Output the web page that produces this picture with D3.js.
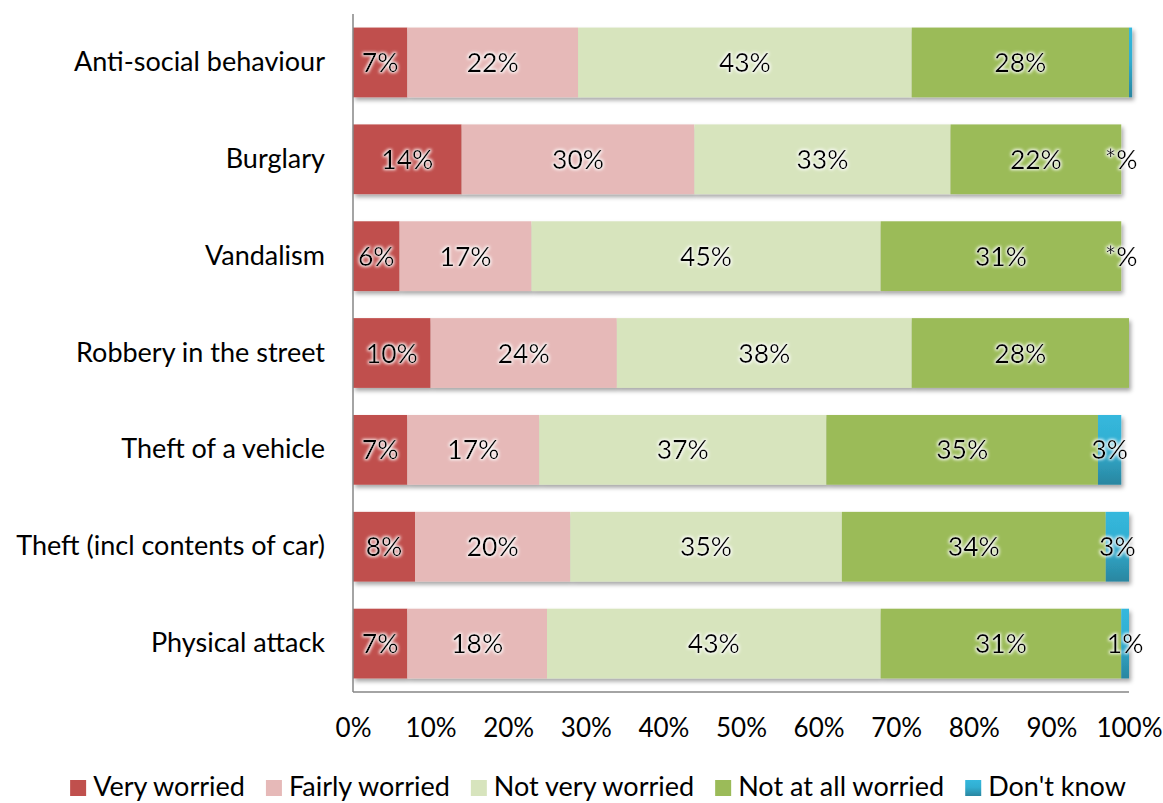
<!DOCTYPE html>
<html>
<head>
<meta charset="utf-8">
<script src="https://cdn.jsdelivr.net/npm/d3@7"></script>
<style>
  html, body { margin: 0; padding: 0; background: #fff; }
  svg { display: block; font-family: Lato, "Open Sans", sans-serif; }
</style>
</head>
<body>
<svg id="chart" width="1163" height="803"></svg>
<script>
// Worry about crime types, share of respondents
const categories = [
  "Anti-social behaviour",
  "Burglary",
  "Vandalism",
  "Robbery in the street",
  "Theft of a vehicle",
  "Theft (incl contents of car)",
  "Physical attack"
];
const veryWorried   = [7, 14, 6, 10, 7, 8, 7];
const fairlyWorried = [22, 30, 17, 24, 17, 20, 18];
const notVeryWorried = [43, 33, 45, 38, 37, 35, 43];
const notAtAllWorried = [28, 22, 31, 28, 35, 34, 31];
const dontKnow = [0.4, 0, 0, 0, 3, 3, 1];
const dontKnowLabels = [null, "*%", "*%", null, "3%", "3%", "1%"];
const seriesNames = ["Very worried", "Fairly worried", "Not very worried", "Not at all worried", "Don't know"];
const tickValues = [0, 10, 20, 30, 40, 50, 60, 70, 80, 90, 100];

const seriesValues = [veryWorried, fairlyWorried, notVeryWorried, notAtAllWorried, dontKnow];
const colors = ["#C0504D", "#E6B9B8", "#D7E4BD", "#9BBB59", "url(#dkGrad)"];

const svg = d3.select("#chart");
const margin = { top: 14, left: 353, right: 34, bottom: 111 };
const width = 1163 - margin.left - margin.right;
const height = 803 - margin.top - margin.bottom;

const defs = svg.append("defs");
const grad = defs.append("linearGradient").attr("id", "dkGrad")
  .attr("x1", 0).attr("y1", 0).attr("x2", 0).attr("y2", 1);
grad.append("stop").attr("offset", "0%").attr("stop-color", "#35B8DD");
grad.append("stop").attr("offset", "45%").attr("stop-color", "#31AED1");
grad.append("stop").attr("offset", "100%").attr("stop-color", "#2A86A0");

const shadow = defs.append("filter").attr("id", "barShadow")
  .attr("x", "-5%").attr("y", "-10%").attr("width", "115%").attr("height", "140%");
shadow.append("feDropShadow").attr("dx", 2).attr("dy", 3)
  .attr("stdDeviation", 2.2).attr("flood-color", "#000").attr("flood-opacity", 0.35);

const glow = defs.append("filter").attr("id", "glow")
  .attr("x", "-30%").attr("y", "-30%").attr("width", "160%").attr("height", "160%");
glow.append("feMorphology").attr("in", "SourceAlpha").attr("operator", "dilate").attr("radius", 1.4).attr("result", "dil");
glow.append("feGaussianBlur").attr("in", "dil").attr("stdDeviation", 1.8).attr("result", "blur");
glow.append("feFlood").attr("flood-color", "#ffffff").attr("flood-opacity", 0.9).attr("result", "white");
glow.append("feComposite").attr("in", "white").attr("in2", "blur").attr("operator", "in").attr("result", "halo");
const merge = glow.append("feMerge");
merge.append("feMergeNode").attr("in", "halo");
merge.append("feMergeNode").attr("in", "SourceGraphic");

const g = svg.append("g").attr("transform", `translate(${margin.left},${margin.top})`);

const x = d3.scaleLinear().domain([0, 100]).range([0, width]);
const y = d3.scaleBand().domain(categories).range([0, height]).paddingInner(0.28).paddingOuter(0.14);

// Build stacked rows
const rows = categories.map((c, i) => {
  let acc = 0;
  return seriesValues.map((vals, s) => {
    const seg = { cat: c, series: s, x0: acc, x1: acc + vals[i], value: vals[i] };
    acc += vals[i];
    seg.label = s < 4 ? `${vals[i]}%` : dontKnowLabels[i];
    return seg;
  });
});

// Bars with shadow
const barRows = g.append("g").selectAll("g.row").data(rows).join("g")
  .attr("class", "row").attr("filter", "url(#barShadow)");
barRows.selectAll("rect").data(d => d.filter(s => s.value > 0)).join("rect")
  .attr("x", d => x(d.x0))
  .attr("y", d => y(d.cat))
  .attr("width", d => x(d.x1) - x(d.x0))
  .attr("height", y.bandwidth())
  .attr("fill", d => colors[d.series]);

// Axis lines
g.append("line").attr("x1", 0).attr("x2", 0).attr("y1", 0).attr("y2", height)
  .attr("stroke", "#868686").attr("stroke-width", 1.5);
g.append("line").attr("x1", 0).attr("x2", width).attr("y1", height).attr("y2", height)
  .attr("stroke", "#868686").attr("stroke-width", 1.5);

// Segment labels
const labels = rows.flat().filter(d => d.label);
g.append("g").selectAll("text").data(labels).join("text")
  .attr("x", d => (x(d.x0) + x(d.x1)) / 2)
  .attr("y", d => y(d.cat) + y.bandwidth() / 2)
  .attr("dy", "0.36em")
  .attr("text-anchor", "middle")
  .attr("font-size", 26.5)
  .attr("fill", "#000")
  .attr("filter", "url(#glow)")
  .text(d => d.label);

// Category axis
const yAxis = g.append("g").call(d3.axisLeft(y).tickSize(0).tickPadding(28));
yAxis.select(".domain").remove();
yAxis.selectAll("text").attr("font-size", 27).attr("fill", "#000")
  .style("font-family", "Lato, 'Open Sans', sans-serif");

// Percentage axis
const xAxis = g.append("g").attr("transform", `translate(0,${height})`)
  .call(d3.axisBottom(x).tickValues(tickValues).tickFormat(d => d + "%").tickSize(0).tickPadding(27));
xAxis.select(".domain").remove();
xAxis.selectAll("text").attr("font-size", 26).attr("fill", "#000")
  .style("font-family", "Lato, 'Open Sans', sans-serif");

// Legend
const legend = svg.append("g");
const items = legend.selectAll("g").data(seriesNames).join("g");
items.append("rect").attr("width", 16).attr("height", 16).attr("y", -16)
  .attr("fill", (d, i) => colors[i]);
items.append("text").attr("x", 23).attr("font-size", 27).attr("fill", "#000").text(d => d);
const gap = 21;
const widths = items.nodes().map(n => n.getBBox().width);
const total = d3.sum(widths) + gap * (widths.length - 1);
let cursor = 598 - total / 2;
items.attr("transform", (d, i) => {
  const t = `translate(${cursor},796)`;
  cursor += widths[i] + gap;
  return t;
});
</script>
</body>
</html>
